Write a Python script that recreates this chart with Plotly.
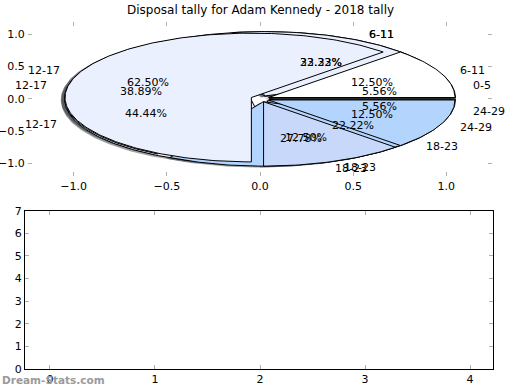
import numpy as np
import plotly.graph_objects as go

title_text = "Disposal tally for Adam Kennedy - 2018 tally"

# Three pies overlaid in the same axes (zero categories omitted), drawn bottom -> top
pie1_labels = ["6-11", "12-17", "18-23"]
pie1_values = [3, 4, 2]
pie2_labels = ["0-5", "6-11", "12-17", "18-23", "24-29"]
pie2_values = [1, 4, 7, 5, 1]
pie3_labels = ["6-11", "12-17", "18-23", "24-29"]
pie3_values = [1, 5, 1, 1]

wedge_colors = ["#ffffff", "#eaf0fd", "#c7d8fa", "#b3d4fc", "#9fc3f7"]

pie_ticks = [-1.0, -0.5, 0.0, 0.5, 1.0]
bottom_x_ticks = [0, 1, 2, 3, 4]
bottom_y_ticks = [0, 1, 2, 3, 4, 5, 6, 7]

EXPLODE = 0.05
SHADOW_OFF = -0.02
FONT = "DejaVu Sans"

fig = go.Figure()
shadows = []
wedges = []
texts = []

def hex_rgb(h):
    h = h.lstrip("#")
    return tuple(int(h[i:i + 2], 16) for i in (0, 2, 4))

for labels, values in [(pie1_labels, pie1_values), (pie2_labels, pie2_values), (pie3_labels, pie3_values)]:
    vals = np.asarray(values, dtype=float)
    fr = vals / vals.sum()
    theta1 = 0.0
    for i, (lab, f) in enumerate(zip(labels, fr)):
        theta2 = theta1 + 360.0 * f
        thm = np.deg2rad((theta1 + theta2) / 2.0)
        cx = EXPLODE * np.cos(thm)
        cy = EXPLODE * np.sin(thm)
        ang = np.deg2rad(np.linspace(theta1, theta2, max(2, int(abs(theta2 - theta1)) + 2)))
        xs = np.concatenate([[cx], cx + np.cos(ang), [cx]])
        ys = np.concatenate([[cy], cy + np.sin(ang), [cy]])
        col = wedge_colors[i % len(wedge_colors)]
        r, g, b = hex_rgb(col)
        shadows.append(go.Scatter(x=xs + SHADOW_OFF, y=ys + SHADOW_OFF, mode="lines", fill="toself",
                                  fillcolor=f"rgba({int(r*0.3)},{int(g*0.3)},{int(b*0.3)},0.5)",
                                  line=dict(width=0), hoverinfo="skip", showlegend=False,
                                  xaxis="x", yaxis="y"))
        wedges.append(go.Scatter(x=xs, y=ys, mode="lines", fill="toself", fillcolor=col,
                                 line=dict(color="black", width=1), hoverinfo="skip",
                                 showlegend=False, xaxis="x", yaxis="y"))
        lx = cx + 1.1 * np.cos(thm)
        ly = cy + 1.1 * np.sin(thm)
        texts.append(dict(x=lx, y=ly, xref="x", yref="y", text=lab, showarrow=False,
                          xanchor="left" if lx > 0 else "right", yanchor="middle",
                          font=dict(family=FONT, size=11, color="black")))
        px = cx + 0.6 * np.cos(thm)
        py = cy + 0.6 * np.sin(thm)
        texts.append(dict(x=px, y=py, xref="x", yref="y", text=f"{f*100:.2f}%", showarrow=False,
                          xanchor="center", yanchor="middle",
                          font=dict(family=FONT, size=11, color="black")))
        theta1 = theta2

for t in shadows:
    fig.add_trace(t)
for t in wedges:
    fig.add_trace(t)

# empty bottom axes (an invisible trace so the axes exist)
fig.add_trace(go.Scatter(x=[None], y=[None], xaxis="x2", yaxis="y2", showlegend=False, hoverinfo="skip"))

W, H = 520, 390
def dx(a, b):
    return [a / W, b / W]
def dy(top, bottom):
    return [(H - bottom) / H, (H - top) / H]

tick_font = dict(family=FONT, size=11, color="black")
common = dict(showgrid=False, zeroline=False, ticks="inside", ticklen=4, tickwidth=1,
              tickcolor="#b0b0b0", tickfont=tick_font, fixedrange=True, automargin=False)

fig.update_layout(
    width=W, height=H, margin=dict(l=0, r=0, t=0, b=0, autoexpand=False),
    paper_bgcolor="white", plot_bgcolor="rgba(0,0,0,0)",
    xaxis=dict(domain=dx(28, 492), range=[-1.245, 1.245], tickvals=pie_ticks, tickformat=".1f",
               showline=True, linecolor="rgba(0,0,0,0)", mirror="ticks", anchor="y", **common),
    yaxis=dict(domain=dy(21.5, 176), range=[-1.2, 1.2], tickvals=pie_ticks, tickformat=".1f",
               showline=True, linecolor="rgba(0,0,0,0)", mirror="ticks", anchor="x", **common),
    xaxis2=dict(domain=dx(25, 493), range=[-0.238, 4.219], tickvals=bottom_x_ticks,
                showline=True, linecolor="black", linewidth=1, mirror="ticks", anchor="y2", **common),
    yaxis2=dict(domain=dy(210.7, 369), range=[0, 7], tickvals=bottom_y_ticks,
                showline=True, linecolor="black", linewidth=1, mirror="ticks", anchor="x2", **common),
    annotations=texts + [
        dict(x=0.5, y=(H - 10) / H, xref="paper", yref="paper", text=title_text, showarrow=False,
             xanchor="center", yanchor="middle", font=dict(family=FONT, size=12, color="black")),
        dict(x=0, y=(H - 380) / H, xref="paper", yref="paper", text="<b>Dream-Stats.com</b>",
             showarrow=False, xanchor="left", yanchor="middle",
             font=dict(family=FONT, size=10.5, color="#9a9a9a")),
    ],
)

fig.write_html("out.html", config={"displayModeBar": False},
               post_script="document.body.style.margin='0';document.body.style.overflow='hidden';")
